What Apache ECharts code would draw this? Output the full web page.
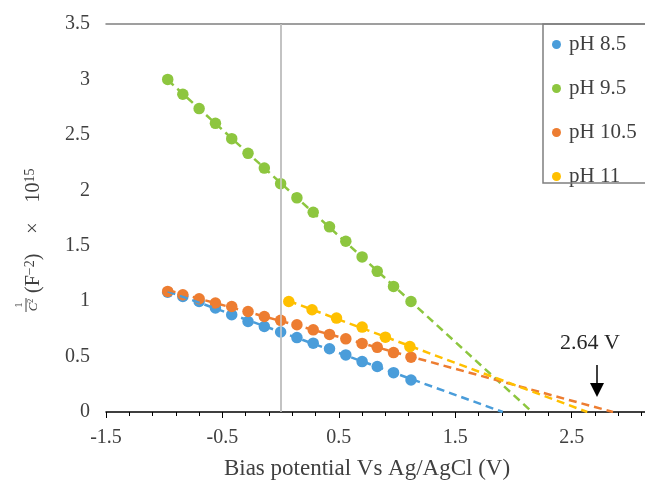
<!DOCTYPE html>
<html><head><meta charset="utf-8">
<script src="https://cdn.jsdelivr.net/npm/echarts@6/dist/echarts.min.js"></script>
<style>html,body{margin:0;padding:0;background:#fff}#c{width:645px;height:486px}</style>
</head><body><div id="c"></div>
<script>
// ---- data ----
const seriesNames = ['pH 8.5', 'pH 9.5', 'pH 10.5', 'pH 11'];
const biasX = [-0.97, -0.84, -0.70, -0.56, -0.42, -0.28, -0.14, 0.00, 0.14, 0.28, 0.42, 0.56, 0.70, 0.83, 0.97, 1.12];
const ph85 = [1.08, 1.042, 0.997, 0.938, 0.877, 0.816, 0.771, 0.722, 0.671, 0.621, 0.571, 0.515, 0.455, 0.410, 0.355, 0.289];
const ph95 = [3.00, 2.866, 2.737, 2.604, 2.466, 2.333, 2.20, 2.06, 1.932, 1.802, 1.67, 1.54, 1.399, 1.269, 1.133, 0.997];
const ph105 = [1.088, 1.058, 1.022, 0.983, 0.952, 0.907, 0.862, 0.827, 0.787, 0.741, 0.700, 0.660, 0.619, 0.583, 0.536, 0.495];
const ph11X = [0.07, 0.27, 0.48, 0.70, 0.90, 1.11];
const ph11 = [0.997, 0.922, 0.847, 0.766, 0.675, 0.590];
const annotationText = '2.64 V';
const xTitle = 'Bias potential Vs Ag/AgCl (V)';

const colors = ['#4A9DDA', '#8DC63F', '#ED7D31', '#FFC000'];
const FONT = '"Liberation Serif", "Times New Roman", serif';

function pairs(xs, ys) { return xs.map((x, i) => [x, ys[i]]); }
function trend(xs, ys) {
  const n = xs.length;
  const mx = xs.reduce((a, b) => a + b, 0) / n;
  const my = ys.reduce((a, b) => a + b, 0) / n;
  let sxx = 0, sxy = 0;
  for (let i = 0; i < n; i++) { sxx += (xs[i] - mx) ** 2; sxy += (xs[i] - mx) * (ys[i] - my); }
  const m = sxy / sxx, b = my - m * mx;
  return [[xs[0], b + m * xs[0]], [-b / m, 0]];
}

const sets = [[biasX, ph85], [biasX, ph95], [biasX, ph105], [ph11X, ph11]];

const series = [{
  type: 'line', data: [], silent: true, z: 1,
  markLine: { silent: true, symbol: 'none', animation: false, label: { show: false },
    lineStyle: { color: '#cfcfcf', width: 1.5, type: 'solid' }, data: [{ xAxis: 0 }] }
}];
sets.forEach((s, i) => {
  series.push({ name: seriesNames[i], type: 'scatter', data: pairs(s[0], s[1]), symbolSize: 11.5,
    itemStyle: { color: colors[i], opacity: 1 }, z: 2 });
});
sets.forEach((s, i) => {
  series.push({ type: 'line', data: trend(s[0], s[1]), symbol: 'none', silent: true, z: 3,
    lineStyle: { color: colors[i], width: 2.5, type: [8, 5] } });
});

const X_MIN = -1.5, X_MAX = 3.13;
const chart = echarts.init(document.getElementById('c'), null, { renderer: 'canvas' });
chart.setOption({
  animation: false,
  backgroundColor: '#fff',
  grid: { left: 106, top: 24, right: 0, bottom: 74, show: false },
  xAxis: [{
    type: 'value', min: X_MIN, max: X_MAX, interval: 1,
    axisLine: { show: true, onZero: false, lineStyle: { color: '#000', width: 1.5 } },
    axisTick: { show: true, length: 6, lineStyle: { color: '#000', width: 1 } },
    minorTick: { show: true, splitNumber: 5, length: 4, lineStyle: { color: '#000', width: 1 } },
    splitLine: { show: false },
    axisLabel: { fontFamily: FONT, fontSize: 20, color: '#404040', margin: 16, showMaxLabel: false }
  }, {
    type: 'value', min: X_MIN, max: X_MAX, position: 'top',
    axisLine: { show: true, onZero: false, lineStyle: { color: '#808080', width: 1.5 } },
    axisTick: { show: false }, axisLabel: { show: false }, splitLine: { show: false }
  }],
  yAxis: {
    type: 'value', min: 0, max: 3.5, interval: 0.5,
    axisLine: { show: true, lineStyle: { color: '#808080', width: 1.5 } },
    axisTick: { show: false }, splitLine: { show: false },
    axisLabel: { fontFamily: FONT, fontSize: 20, color: '#404040', margin: 16 }
  },
  legend: {
    orient: 'vertical', left: 552, top: 34, padding: 0, itemGap: 23, itemWidth: 9, itemHeight: 9,
    icon: 'circle', data: seriesNames,
    textStyle: { fontFamily: FONT, fontSize: 21, color: '#404040', lineHeight: 20, padding: [0, 0, 0, 3] }
  },
  series: series,
  graphic: [
    { type: 'rect', z: 100, shape: { x: 543, y: 24, width: 120, height: 159 },
      style: { fill: 'none', stroke: '#7f7f7f', lineWidth: 1.5 } },
    { type: 'text', z: 100, x: 367, y: 469,
      style: { text: xTitle, fontFamily: FONT, fontSize: 23, fill: '#404040', align: 'center', verticalAlign: 'middle' } },
    { type: 'text', z: 100, x: 590, y: 343,
      style: { text: annotationText, fontFamily: FONT, fontSize: 22, fill: '#262626', align: 'center', verticalAlign: 'middle' } },
    { type: 'line', z: 100, shape: { x1: 597, y1: 365, x2: 597, y2: 386 }, style: { stroke: '#000', lineWidth: 1.5 } },
    { type: 'polygon', z: 100, shape: { points: [[590, 383], [604, 383], [597, 397]] }, style: { fill: '#000' } },
    { type: 'group', x: 34, y: 305, rotation: Math.PI / 2, z: 100, children: [
      { type: 'text', x: 0, y: -15, style: { text: '1', fontFamily: FONT, fontSize: 11, fill: '#404040', align: 'center', verticalAlign: 'middle' } },
      { type: 'line', shape: { x1: -7, y1: -8, x2: 7, y2: -8 }, style: { stroke: '#404040', lineWidth: 1 } },
      { type: 'text', x: 0, y: 0, style: { text: '{i|C}{s|2}', align: 'center', verticalAlign: 'middle', fill: '#404040',
          rich: { i: { fontFamily: FONT, fontSize: 13, fontStyle: 'italic', fill: '#404040', lineHeight: 14 },
                  s: { fontFamily: FONT, fontSize: 8, fill: '#404040', verticalAlign: 'top', lineHeight: 14 } } } },
      { type: 'text', x: 12, y: 0, style: { text: '{b|(F}{s|−2}{b|)    ×    10}{s|15}', align: 'left', verticalAlign: 'middle', fill: '#404040',
          rich: { b: { fontFamily: FONT, fontSize: 20, fill: '#404040', lineHeight: 22 },
                  s: { fontFamily: FONT, fontSize: 14, fill: '#404040', verticalAlign: 'top', lineHeight: 22 } } } }
    ] }
  ]
});
</script>
</body></html>
